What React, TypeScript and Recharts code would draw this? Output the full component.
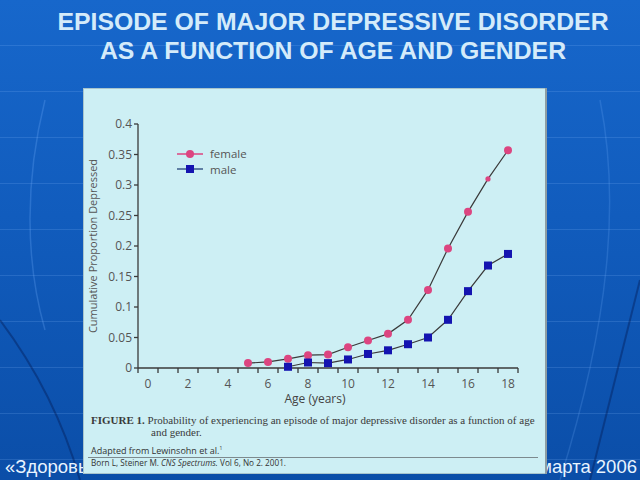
import React from 'react';
import { LineChart, Line, XAxis, YAxis, Legend } from 'recharts';

const AGES = [5, 6, 7, 8, 9, 10, 11, 12, 13, 14, 15, 16, 17, 18];
const FEMALE = [0.008, 0.010, 0.015, 0.021, 0.022, 0.034, 0.045, 0.056, 0.079, 0.128, 0.196, 0.256, 0.310, 0.357];
const MALE = [null, null, 0.002, 0.009, 0.008, 0.014, 0.023, 0.029, 0.039, 0.050, 0.079, 0.126, 0.168, 0.187];
const Y_TICKS = [0, 0.05, 0.1, 0.15, 0.2, 0.25, 0.3, 0.35, 0.4];
const Y_TICK_LABELS = ['0', '0.05', '0.1', '0.15', '0.2', '0.25', '0.3', '0.35', '0.4'];
const X_TICK_MARKS = [-0.5, 0.5, 1.5, 2.5, 3.5, 4.5, 5.5, 6.5, 7.5, 8.5, 9.5, 10.5, 11.5, 12.5, 13.5, 14.5, 15.5, 16.5, 17.5, 18.5];
const X_LABELS = [0, 2, 4, 6, 8, 10, 12, 14, 16, 18];
const X_DOMAIN: [number, number] = [-0.5, 18.5];

const TITLE = ['EPISODE OF MAJOR DEPRESSIVE DISORDER', 'AS A FUNCTION OF AGE AND GENDER'];

const data = AGES.map((age, i) => ({ age, female: FEMALE[i], male: MALE[i] }));

const CHART_W = 464;
const CHART_H = 320;
const MARGIN = { top: 36, right: 29, left: 10, bottom: 10 };
const Y_AXIS_W = 45;
const PLOT_W = CHART_W - MARGIN.left - MARGIN.right - Y_AXIS_W;
const PX_PER_UNIT = PLOT_W / (X_DOMAIN[1] - X_DOMAIN[0]);

const FEMALE_COLOR = '#dc4580';
const MALE_COLOR = '#1414b0';
const LINE_COLOR = '#3a3a3a';
const AXIS_COLOR = '#3a3a3a';
const TEXT_COLOR = '#555';
const FONT = '"Open Sans", "Noto Sans", sans-serif';

const XTick = (props: any) => {
  const { x, y, payload } = props;
  const labelValue = payload.value + 0.5;
  if (!X_LABELS.includes(labelValue)) return <g />;
  return (
    <text
      x={x + PX_PER_UNIT / 2}
      y={y}
      dy="0.71em"
      textAnchor="middle"
      fill={TEXT_COLOR}
      fontSize={12}
      fontFamily={FONT}
    >
      {labelValue}
    </text>
  );
};

const FemaleDot = (props: any) => {
  const { cx, cy, index } = props;
  if (cx == null || cy == null) return <g key={`f-${index}`} />;
  const r = AGES[index] === 17 ? 2.6 : 4;
  return <circle key={`f-${index}`} cx={cx} cy={cy} r={r} fill={FEMALE_COLOR} />;
};

const MaleDot = (props: any) => {
  const { cx, cy, index } = props;
  if (cx == null || cy == null) return <g key={`m-${index}`} />;
  return <rect key={`m-${index}`} x={cx - 4} y={cy - 4} width={8} height={8} fill={MALE_COLOR} />;
};

const LegendContent = () => (
  <svg width={110} height={34}>
    <line x1={4} x2={30} y1={10} y2={10} stroke={FEMALE_COLOR} strokeWidth={1.5} />
    <circle cx={17} cy={10} r={4} fill={FEMALE_COLOR} />
    <text x={37} y={10} dy="0.35em" fontSize={11.5} fill={TEXT_COLOR} fontFamily={FONT}>female</text>
    <line x1={4} x2={30} y1={25} y2={25} stroke="#3a5a8a" strokeWidth={1.5} />
    <rect x={13} y={21} width={8} height={8} fill={MALE_COLOR} />
    <text x={37} y={25.5} dy="0.35em" fontSize={11.5} fill={TEXT_COLOR} fontFamily={FONT}>male</text>
  </svg>
);

const Background = () => (
  <svg width={640} height={480} style={{ position: 'absolute', left: 0, top: 0 }}>
    <path d="M45,100 C25,180 25,260 45,330" stroke="rgba(120,180,255,0.25)" strokeWidth={1.5} fill="none" />
    <path d="M0,320 C30,360 60,410 80,480" stroke="rgba(5,30,90,0.45)" strokeWidth={2} fill="none" />
    <path d="M600,100 C620,200 610,320 560,480" stroke="rgba(120,180,255,0.2)" strokeWidth={1.5} fill="none" />
    <path d="M640,280 C620,360 605,420 590,480" stroke="rgba(5,30,90,0.45)" strokeWidth={2} fill="none" />
  </svg>
);

export default function App() {
  return (
    <div
      style={{
        position: 'absolute',
        left: 0,
        top: 0,
        width: 640,
        height: 480,
        overflow: 'hidden',
        background:
          'repeating-linear-gradient(180deg, rgba(255,255,255,0) 0px, rgba(255,255,255,0) 45px, rgba(140,190,255,0.18) 45px, rgba(140,190,255,0.18) 46px, rgba(255,255,255,0) 46px, rgba(255,255,255,0) 43.4px), linear-gradient(180deg, #1767cb 0%, #115cbd 45%, #0b4ea8 100%)',
        fontFamily: '"Liberation Sans", Arial, sans-serif',
      }}
    >
      <Background />
      <div
        style={{
          position: 'absolute',
          left: 0,
          top: 7,
          width: 666,
          textAlign: 'center',
          color: '#d4ebfa',
          fontWeight: 'bold',
          fontSize: 24.8,
          lineHeight: '29px',
          whiteSpace: 'nowrap',
        }}
      >
        <div>{TITLE[0]}</div>
        <div>{TITLE[1]}</div>
      </div>

      <div
        style={{
          position: 'absolute',
          left: 5,
          top: 456,
          color: '#e8f4ff',
          fontSize: 18.5,
          lineHeight: '22px',
          whiteSpace: 'nowrap',
        }}
      >
        «Здоровь
      </div>
      <div style={{ position: 'absolute', right: 3, top: 456, color: '#e8f4ff', fontSize: 18.5, lineHeight: '22px', whiteSpace: 'nowrap' }}>
        марта 2006
      </div>

      <div
        style={{
          position: 'absolute',
          left: 83,
          top: 88,
          width: 464,
          height: 386,
          background: '#cdeff4',
          boxShadow: 'inset -2px 0 0 #8d9da3, inset 0 1px 0 #a8c4cc, inset 1px 0 0 #a8c4cc, inset 0 -1px 0 #a8c4cc',
        }}
      >
        <div style={{ position: 'absolute', left: 0, top: 0 }}>
          <LineChart width={CHART_W} height={CHART_H} data={data} margin={MARGIN}>
            <XAxis
              dataKey="age"
              type="number"
              domain={X_DOMAIN}
              ticks={X_TICK_MARKS}
              interval={0}
              tick={<XTick />}
              tickSize={5}
              tickMargin={6}
              height={30}
              axisLine={{ stroke: AXIS_COLOR, strokeWidth: 1.3 }}
              tickLine={{ stroke: AXIS_COLOR, strokeWidth: 1.3 }}
            />
            <YAxis
              type="number"
              domain={[0, 0.4]}
              ticks={Y_TICKS}
              interval={0}
              width={Y_AXIS_W}
              tickSize={4}
              tickMargin={2}
              tickFormatter={(v: number) => Y_TICK_LABELS[Y_TICKS.indexOf(v)] ?? String(v)}
              tick={{ fill: TEXT_COLOR, fontSize: 12, fontFamily: FONT }}
              axisLine={{ stroke: AXIS_COLOR, strokeWidth: 1.3 }}
              tickLine={{ stroke: AXIS_COLOR, strokeWidth: 1.3 }}
              label={{
                value: 'Cumulative Proportion Depressed',
                angle: -90,
                position: 'insideLeft',
                offset: 0,
                style: { textAnchor: 'middle', fill: TEXT_COLOR, fontSize: 11, fontFamily: FONT },
              }}
            />
            <Legend
              layout="vertical"
              align="center"
              verticalAlign="middle"
              content={<LegendContent />}
              wrapperStyle={{ position: 'absolute', left: 90, top: 56, width: 110, height: 34 }}
            />
            <Line
              dataKey="female"
              name="female"
              stroke={LINE_COLOR}
              strokeWidth={1.2}
              dot={<FemaleDot />}
              activeDot={false}
              isAnimationActive={false}
            />
            <Line
              dataKey="male"
              name="male"
              stroke={LINE_COLOR}
              strokeWidth={1.2}
              dot={<MaleDot />}
              activeDot={false}
              isAnimationActive={false}
            />
          </LineChart>
        </div>

        <div
          style={{
            position: 'absolute',
            left: 0,
            top: 304,
            width: 464,
            textAlign: 'center',
            color: '#444',
            fontFamily: FONT,
            fontSize: 12,
            lineHeight: '14px',
          }}
        >
          Age (years)
        </div>

        <div
          style={{
            position: 'absolute',
            left: 8,
            top: 327,
            width: 452,
            color: '#3a3a3a',
            fontFamily: '"Liberation Serif", serif',
            fontSize: 11,
            lineHeight: '11.5px',
          }}
        >
          <div style={{ whiteSpace: 'nowrap' }}>
            <b>FIGURE 1.</b> Probability of experiencing an episode of major depressive disorder as a function of age
          </div>
          <div style={{ paddingLeft: 60 }}>and gender.</div>
        </div>
        <div
          style={{
            position: 'absolute',
            left: 8,
            top: 354,
            color: '#333',
            fontFamily: FONT,
            fontSize: 9,
            lineHeight: '12px',
            whiteSpace: 'nowrap',
          }}
        >
          Adapted from Lewinsohn et al.<sup style={{ fontSize: 5 }}>1</sup>
        </div>
        <div style={{ position: 'absolute', left: 5, top: 369, width: 450, height: 1, background: '#7d8a8e' }} />
        <div
          style={{
            position: 'absolute',
            left: 8,
            top: 369.5,
            color: '#333',
            fontFamily: FONT,
            fontSize: 8.2,
            lineHeight: '10px',
            whiteSpace: 'nowrap',
          }}
        >
          Born L, Steiner M. <i>CNS Spectrums.</i> Vol 6, No 2. 2001.
        </div>
      </div>
    </div>
  );
}
